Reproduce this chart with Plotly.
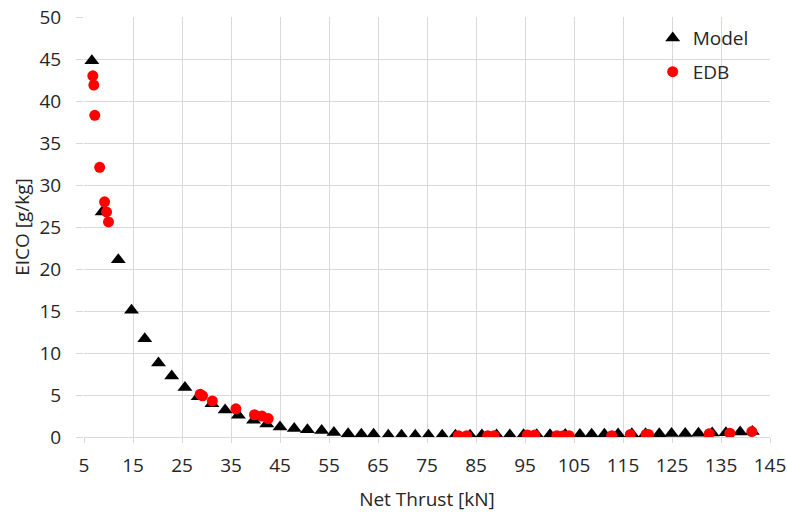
import plotly.graph_objects as go

# Model (triangles)
model_x = [6.6, 8.7, 12.0, 14.7, 17.4, 20.2, 22.9, 25.6, 28.3, 31.1, 33.8, 36.5, 39.6, 42.3,
           45.0, 47.9, 50.6, 53.5, 56.0, 58.9, 61.6, 64.1, 67.1, 69.8, 72.6, 75.3, 78.1, 80.8,
           83.8, 86.2, 89.2, 91.9, 94.7, 97.4, 100.1, 103.2, 106.2, 108.6, 111.2, 114.0, 116.8,
           119.6, 122.4, 124.9, 127.7, 130.4, 133.2, 136.0, 138.9, 141.4]
model_y = [44.8, 26.8, 21.1, 15.1, 11.7, 8.8, 7.25, 5.9, 4.8, 3.95, 3.2, 2.6, 2.0, 1.55,
           1.2, 1.0, 0.87, 0.78, 0.55, 0.4, 0.33, 0.33, 0.2, 0.2, 0.2, 0.2, 0.2, 0.22,
           0.22, 0.24, 0.24, 0.25, 0.26, 0.27, 0.28, 0.3, 0.3, 0.32, 0.34, 0.36, 0.38,
           0.4, 0.4, 0.42, 0.43, 0.45, 0.48, 0.52, 0.6, 0.65]

# EDB (red circles)
edb_x = [6.8, 7.0, 7.2, 8.2, 9.2, 9.6, 10.0, 28.7, 29.2, 31.2, 36.0, 39.8, 41.3, 42.6,
         81.4, 83.1, 87.4, 88.7, 95.5, 97.0, 101.5, 102.8, 104.0, 112.7, 116.5, 119.7,
         120.2, 132.6, 136.8, 141.3]
edb_y = [43.0, 41.9, 38.3, 32.1, 28.0, 26.8, 25.6, 5.1, 4.9, 4.3, 3.35, 2.65, 2.5, 2.2,
         0.15, 0.15, 0.15, 0.15, 0.24, 0.24, 0.15, 0.15, 0.15, 0.15, 0.3, 0.3,
         0.3, 0.4, 0.45, 0.65]

x_ticks = list(range(5, 146, 10))
y_ticks = list(range(0, 51, 5))

FONT = "Open Sans"
TXT = "#262626"
GRID = "#d9d9d9"
FS = 19

fig = go.Figure()
fig.add_trace(go.Scatter(x=model_x, y=model_y, mode="markers", name="Model",
                         legendgroup="a",
                         marker=dict(symbol="triangle-up", size=13, color="black")))
fig.add_trace(go.Scatter(x=edb_x, y=edb_y, mode="markers", name="EDB",
                         legendgroup="b",
                         marker=dict(symbol="circle", size=11, color="#ff0000")))

fig.update_layout(
    width=787, height=517,
    margin=dict(l=84, r=17, t=17, b=80),
    paper_bgcolor="white", plot_bgcolor="white",
    font=dict(family=FONT, size=FS, color=TXT),
    showlegend=True,
    legend=dict(x=0.829, y=0.995, xanchor="left", yanchor="top",
                bgcolor="rgba(0,0,0,0)", font=dict(size=FS, color=TXT),
                tracegroupgap=6),
    xaxis=dict(range=[5, 145], tickvals=x_ticks, showgrid=True, gridcolor=GRID,
               gridwidth=1, zeroline=False, showline=True, linecolor=GRID,
               ticks="outside", ticklen=5, tickcolor=GRID, automargin=False,
               ticklabelstandoff=6,
               title=dict(text="Net Thrust [kN]", font=dict(size=FS, color=TXT), standoff=15),
               tickfont=dict(size=FS, color=TXT)),
    yaxis=dict(range=[0, 50], tickvals=y_ticks, showgrid=True, gridcolor=GRID,
               gridwidth=1, zeroline=False, showline=False,
               ticks="outside", ticklen=7, tickcolor=GRID, automargin=False,
               ticklabelstandoff=11,
               title=dict(text="EICO [g/kg]", font=dict(size=FS, color=TXT), standoff=4),
               tickfont=dict(size=FS, color=TXT)),
)

fig.write_html("out.html")
